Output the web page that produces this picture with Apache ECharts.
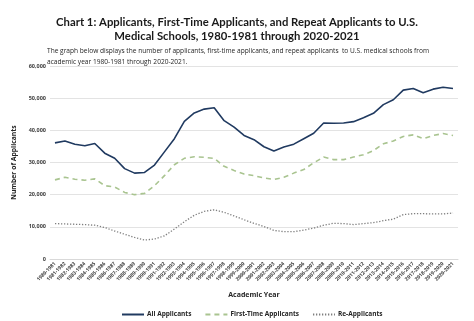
<!DOCTYPE html>
<html>
<head>
<meta charset="utf-8">
<script src="https://cdn.jsdelivr.net/npm/echarts@6/dist/echarts.min.js"></script>
<style>
  html, body { margin: 0; padding: 0; background: #ffffff; }
  #chart { width: 474px; height: 321px; }
</style>
</head>
<body>
<div id="chart"></div>
<script>
// Academic years 1980-1981 .. 2020-2021
const years = [
  '1980-1981','1981-1982','1982-1983','1983-1984','1984-1985','1985-1986','1986-1987',
  '1987-1988','1988-1989','1989-1990','1990-1991','1991-1992','1992-1993','1993-1994',
  '1994-1995','1995-1996','1996-1997','1997-1998','1998-1999','1999-2000','2000-2001',
  '2001-2002','2002-2003','2003-2004','2004-2005','2005-2006','2006-2007','2007-2008',
  '2008-2009','2009-2010','2010-2011','2011-2012','2012-2013','2013-2014','2014-2015',
  '2015-2016','2016-2017','2017-2018','2018-2019','2019-2020','2020-2021'
];

// Total applicants
const allApplicants = [
  36100, 36700, 35700, 35200, 35900, 32900, 31300, 28100, 26700, 26900,
  29200, 33300, 37400, 42800, 45400, 46600, 47000, 43000, 41000, 38400,
  37100, 34900, 33600, 34800, 35700, 37400, 39100, 42300, 42200, 42300,
  42700, 43900, 45300, 48000, 49500, 52500, 53000, 51700, 52800, 53400,
  53000
];

// First-time applicants
const firstTime = [
  24600, 25400, 24800, 24500, 24900, 22800, 22400, 20700, 20000, 20400,
  22800, 25900, 29300, 31300, 31800, 31600, 31300, 28800, 27500, 26400,
  25900, 25200, 24700, 25400, 26700, 27800, 29900, 31700, 30900, 30900,
  31700, 32400, 33700, 35800, 36700, 38100, 38600, 37400, 38400, 39000,
  38400
];

// Repeat applicants
const reApplicants = [
  11000, 10900, 10800, 10700, 10500, 9800, 8700, 7700, 6700, 5900,
  6200, 7200, 9300, 11600, 13600, 14800, 15300, 14500, 13400, 12200,
  11100, 10100, 8900, 8500, 8500, 9000, 9600, 10500, 11100, 11000,
  10700, 11000, 11300, 11900, 12400, 13800, 14100, 14100, 14000, 14000,
  14300
];

const yTicks = [0, 10000, 20000, 30000, 40000, 50000, 60000];

const FONT = '"Open Sans", "Liberation Sans", sans-serif';
const TITLE_FONT = 'Lato, "Open Sans", sans-serif';

const chart = echarts.init(document.getElementById('chart'), null, { renderer: 'canvas' });

chart.setOption({
  animation: false,
  backgroundColor: '#ffffff',
  title: [
    {
      text: 'Chart 1: Applicants, First-Time Applicants, and Repeat Applicants to U.S.\nMedical Schools, 1980-1981 through 2020-2021',
      left: 'center',
      top: 10,
      textStyle: { fontFamily: TITLE_FONT, fontSize: 11.3, fontWeight: 'bold', color: '#1a1a1a', lineHeight: 14 }
    },
    {
      text: 'The graph below displays the number of applicants, first-time applicants, and repeat applicants  to U.S. medical schools from\nacademic year 1980-1981 through 2020-2021.',
      left: 42,
      top: 41,
      textStyle: { fontFamily: FONT, fontSize: 6.6, fontWeight: 'normal', color: '#262626', lineHeight: 10.5 }
    }
  ],
  grid: { left: 50, right: 16, top: 66, bottom: 62, containLabel: false },
  legend: {
    top: 306,
    left: 116,
    itemGap: 13,
    itemWidth: 22,
    itemHeight: 6,
    itemStyle: { opacity: 0 },
    textStyle: { fontFamily: FONT, fontSize: 6.5, fontWeight: 'bold', color: '#262626', padding: [0, 0, 0, -2] },
    data: ['All Applicants', 'First-Time Applicants', 'Re-Applicants']
  },
  xAxis: {
    type: 'category',
    data: years,
    boundaryGap: true,
    name: 'Academic Year',
    nameLocation: 'middle',
    nameGap: 32,
    nameTextStyle: { fontFamily: FONT, fontSize: 7, fontWeight: 'bold', color: '#262626' },
    axisLine: { show: true, lineStyle: { color: '#d9d9d9', width: 1 } },
    axisTick: { show: false },
    axisLabel: {
      interval: 0,
      rotate: 45,
      margin: 4,
      fontFamily: FONT,
      fontSize: 5,
      fontWeight: 'bold',
      color: '#404040'
    }
  },
  yAxis: {
    type: 'value',
    min: yTicks[0],
    max: yTicks[yTicks.length - 1],
    interval: yTicks[1] - yTicks[0],
    name: 'Number of Applicants',
    nameLocation: 'middle',
    nameGap: 25,
    nameRotate: 90,
    nameTextStyle: { fontFamily: FONT, fontSize: 6.8, fontWeight: 'bold', color: '#262626' },
    axisLine: { show: false },
    axisTick: { show: false },
    axisLabel: {
      margin: 4,
      fontFamily: FONT,
      fontSize: 5.5,
      fontWeight: 'bold',
      color: '#404040',
      formatter: v => v.toLocaleString('en-US')
    },
    splitLine: { lineStyle: { color: '#e3e3e3', width: 1 } }
  },
  series: [
    {
      name: 'All Applicants',
      type: 'line',
      data: allApplicants,
      symbol: 'none',
      lineStyle: { color: '#203a60', width: 1.6 },
      itemStyle: { color: '#203a60' }
    },
    {
      name: 'First-Time Applicants',
      type: 'line',
      data: firstTime,
      symbol: 'none',
      lineStyle: { color: '#a9c490', width: 1.6, type: [5, 4] },
      itemStyle: { color: '#a9c490' }
    },
    {
      name: 'Re-Applicants',
      type: 'line',
      data: reApplicants,
      symbol: 'none',
      lineStyle: { color: '#7f7f7f', width: 1.3, type: [1.3, 1.7] },
      itemStyle: { color: '#7f7f7f' }
    }
  ]
});
</script>
</body>
</html>
